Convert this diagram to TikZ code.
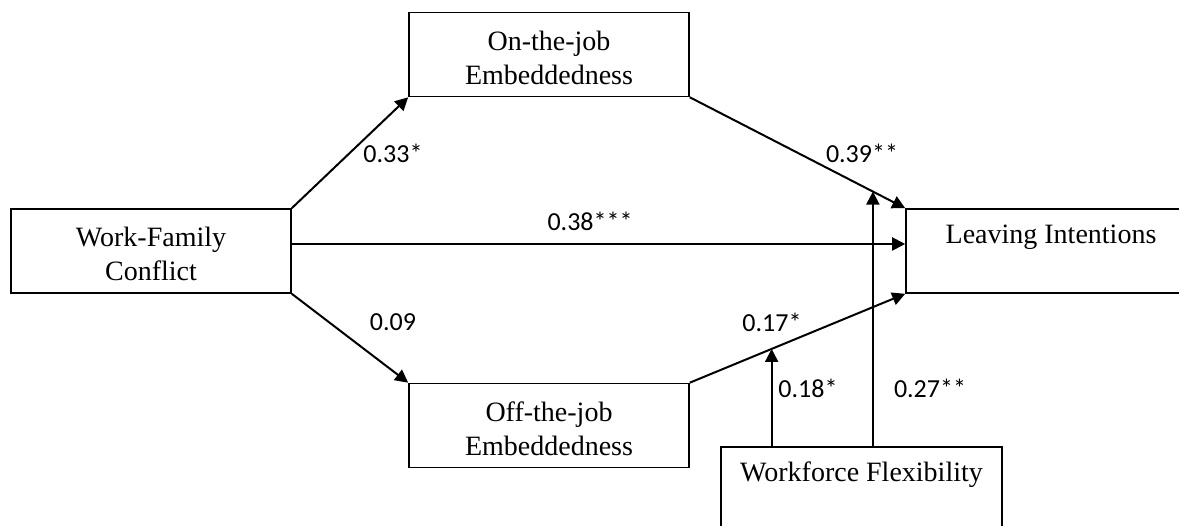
\documentclass[tikz,border=0pt]{standalone}
\usepackage{fontspec}
\setmainfont{Liberation Serif}
\newfontfamily\coeffont{Carlito}
\usetikzlibrary{arrows.meta}
\begin{document}
\begin{tikzpicture}[x=1pt, y=1pt]
\clip (0, 0) rectangle (1179, 526);
\begin{scope}[every node/.style = {draw, line width=1.6pt, minimum width=280pt, minimum height=84pt, inner sep=0pt, align=center, font=\fontsize{28}{34}\selectfont, text height=60pt, text depth=0pt}]
\node (WFC) at (151, 275) {Work-Family\\Conflict};
\node (OnJ) at (549, 471.5) {On-the-job\\Embeddedness};
\node (OffJ) at (549, 100.5) {Off-the-job\\Embeddedness};
\node[minimum width=290pt, text height=54pt] (LI) at (1051, 275) {Leaving Intentions\\~};
\node[minimum width=281pt, text height=54pt] (WF) at (861.5, 37) {Workforce Flexibility\\~};
\end{scope}
\begin{scope}[every edge/.style = {draw, line width=2pt, -{Triangle[length=13pt, width=13pt]}}]
\path (WFC.north east) edge (OnJ.south west);
\path (WFC.south east) edge (OffJ.north west);
\path ([yshift=7pt]WFC.east) edge ([yshift=7pt]LI.west);
\path (OnJ.south east) edge node[coordinate, pos=0.85] (m2) {} (LI.north west);
\path (OffJ.north east) edge node[coordinate, pos=0.38] (m1) {} (LI.south west);
\path (WF.north -| m1) edge (m1);
\path (WF.north -| m2) edge (m2);
\end{scope}
\begin{scope}[every node/.style = {font=\coeffont\fontsize{26}{30}\selectfont}]
\node (c33) at (393, 373) {0.33*};
\node (c09) at (393, 204) {0.09};
\node (c38) at (590, 305) {0.38***};
\node (c39) at (862, 373) {0.39**};
\node (c17) at (772, 204) {0.17*};
\node (c18) at (808, 138) {0.18*};
\node (c27) at (930, 138) {0.27**};
\end{scope}
\end{tikzpicture}
\end{document}
